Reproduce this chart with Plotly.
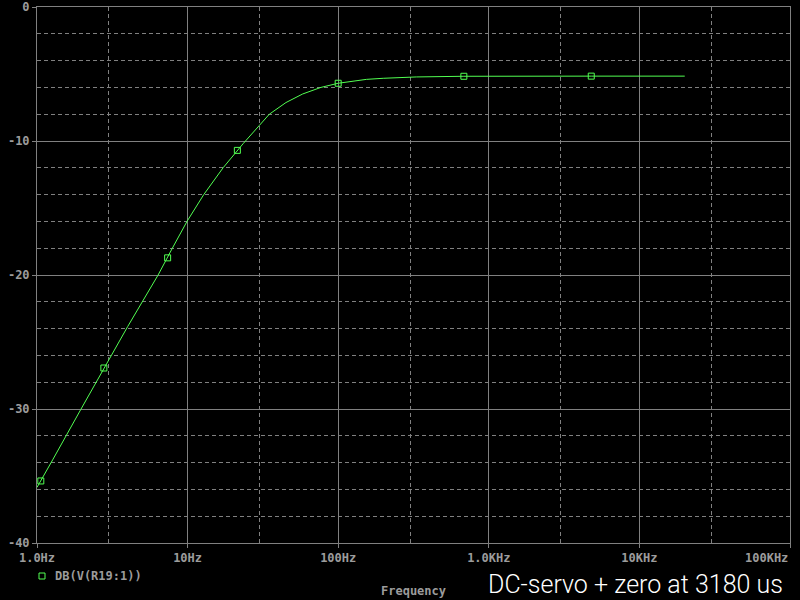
import plotly.graph_objects as go

# ---- data ----
freq_hz = [1.0, 1.06, 1.27, 1.95, 2.78, 4.0, 6.37, 7.37, 7.92, 9.91, 12.8, 17.2, 21.4, 23.5,
           30, 34.9, 45, 58.1, 76.8, 100, 154, 199, 330, 683, 4790, 20000]
gain_db = [-35.85, -35.37, -33.8, -30.05, -26.94, -23.85, -20.0, -18.72, -18.0, -16.0, -14.0, -12.0,
           -10.7, -10.17, -8.83, -8.0, -7.13, -6.49, -6.0, -5.69, -5.40, -5.32, -5.22, -5.17, -5.16, -5.16]
marker_freq = [1.06, 2.78, 7.37, 21.4, 100, 683, 4790]
marker_db = [-35.37, -26.94, -18.72, -10.7, -5.69, -5.17, -5.16]

x_tickvals = [1, 10, 100, 1000, 10000, 100000]
x_ticktext = ["1.0Hz", "10Hz", "100Hz", "1.0KHz", "10KHz", "100KHz"]
x_minorvals = [3, 30, 300, 3000, 30000]
y_tickvals = [-40, -30, -20, -10, 0]
y_ticktext = ["-40", "-30", "-20", "-10", "0"]

series_name = "DB(V(R19:1))"
title_text = "DC-servo + zero at 3180 us"
x_title = "Frequency"

GREEN = "#52ff52"
GRID = "#808080"
TXT = "#9c9c9c"
MONO = dict(family="DejaVu Sans Mono", size=12, color=TXT, weight="bold")

# last x label is right-aligned to its tick in the reference: draw it as an annotation
x_ticktext_shown = list(x_ticktext[:-1]) + [""]

fig = go.Figure()
fig.add_trace(go.Scatter(x=freq_hz, y=gain_db, mode="lines",
                         line=dict(color=GREEN, width=1),
                         showlegend=False, hoverinfo="skip"))
fig.add_trace(go.Scatter(x=marker_freq, y=marker_db, mode="markers", name=series_name,
                         marker=dict(symbol="square-open", size=6, color=GREEN,
                                     line=dict(color=GREEN, width=1)),
                         showlegend=False))

fig.update_layout(
    width=800, height=600,
    paper_bgcolor="black", plot_bgcolor="black",
    margin=dict(l=37, r=10, t=7, b=57, autoexpand=False),
    showlegend=False,
    xaxis=dict(type="log", range=[0, 5], tickvals=x_tickvals, ticktext=x_ticktext_shown,
               showgrid=True, gridcolor=GRID, gridwidth=1,
               showline=True, mirror=True, linecolor=GRID, linewidth=1,
               ticks="outside", ticklen=4, tickcolor=GRID, tickfont=MONO,
               ticklabeloverflow="allow", automargin=False,
               zeroline=False,
               minor=dict(tickvals=x_minorvals, showgrid=True, gridcolor=GRID,
                          griddash="4px,3px", gridwidth=1, ticks="")),
    yaxis=dict(range=[-40, 0], tickvals=y_tickvals, ticktext=y_ticktext,
               showgrid=True, gridcolor=GRID, gridwidth=1,
               showline=True, mirror=True, linecolor=GRID, linewidth=1,
               ticks="outside", ticklen=4, tickcolor=GRID, tickfont=MONO,
               ticklabeloverflow="allow", automargin=False,
               zeroline=False,
               minor=dict(dtick=2, showgrid=True, gridcolor=GRID,
                          griddash="4px,3px", gridwidth=1, ticks="")),
)

fig.add_annotation(text=x_ticktext[-1], xref="paper", yref="paper",
                   x=1.0, y=(543 - 558) / 536, xanchor="right", yanchor="middle",
                   showarrow=False, font=MONO)

# legend-like entry (marker square + label) below the axis
fig.add_shape(type="rect", xref="paper", yref="paper",
              x0=(39 - 37) / 753, x1=(45 - 37) / 753,
              y0=(543 - 579) / 536, y1=(543 - 573) / 536,
              line=dict(color=GREEN, width=1), fillcolor="rgba(0,0,0,0)")
fig.add_annotation(text=series_name, xref="paper", yref="paper",
                   x=(53 - 37) / 753, y=(543 - 576) / 536, xanchor="left", yanchor="middle",
                   showarrow=False, font=MONO)
fig.add_annotation(text=x_title, xref="paper", yref="paper",
                   x=(413 - 37) / 753, y=(543 - 591) / 536, xanchor="center", yanchor="middle",
                   showarrow=False, font=MONO)
fig.add_annotation(text=title_text, xref="paper", yref="paper",
                   x=(785 - 37) / 753, y=(543 - 584) / 536, xanchor="right", yanchor="middle",
                   showarrow=False, font=dict(family="Roboto", size=25, color="white", weight=300))

fig.write_html("out.html", config={"displayModeBar": False},
               post_script="document.body.style.margin='0';document.body.style.background='black';")
